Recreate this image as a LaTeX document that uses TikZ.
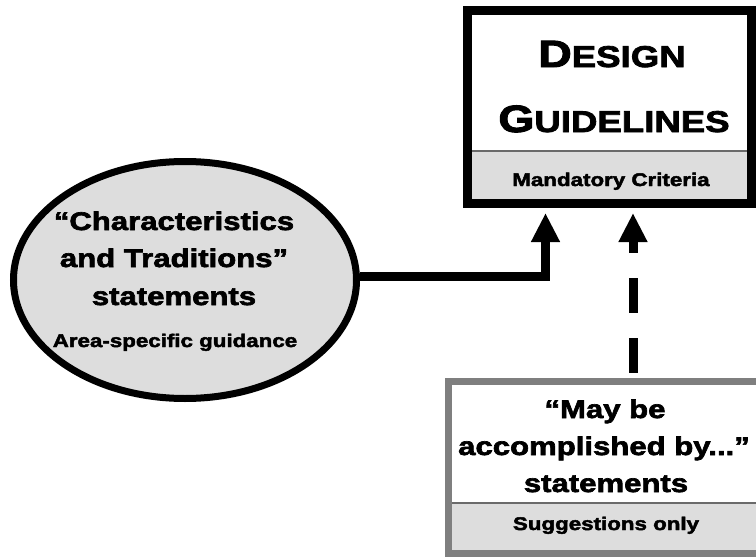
\documentclass[tikz,border=0pt]{standalone}
\usepackage{fontspec}
\setmainfont{Liberation Sans}[FakeStretch=1.22,BoldFeatures={FakeBold=2.6}]
\usetikzlibrary{arrows.meta,shapes.geometric}
\definecolor{panel}{HTML}{DDDDDD}
\definecolor{rule}{HTML}{6A6A6A}
\definecolor{frame}{HTML}{7F7F7F}
\newcommand\bigtxt{\fontsize{25.5}{30}\selectfont\bfseries}
\newcommand\subtxt{\fontsize{18.3}{22}\selectfont\bfseries}
\newcommand\capA{\fontsize{38}{44}\selectfont\bfseries}
\newcommand\capB{\fontsize{30}{44}\selectfont\bfseries}
\tikzset{
  line/.style={anchor=base, inner sep=0pt, text=black},
  conn/.style={line width=9pt, -{Triangle[length=29pt,width=27pt]}, shorten >=5pt},
}
\begin{document}
\begin{tikzpicture}[x=1pt,y=-1pt]
\useasboundingbox[fill=white] (0,0) rectangle (756,557);
% Design guidelines box
\fill[panel] (467.5,151) rectangle (751.5,203.5);
\draw[rule, line width=1.5pt] (467.5,151) -- (751.5,151);
\node[draw, line width=9pt, minimum width=284pt, minimum height=193pt, inner sep=0pt] (dg) at (609.5,107) {};
\node[line] (d1) at (612,67) {\capA D\capB ESIGN};
\node[line] (d2) at (614,132) {\capA G\capB UIDELINES};
\node[line] (d3) at (611,186) {\subtxt Mandatory Criteria};
% ellipse
\node[ellipse, draw, fill=panel, line width=7pt, minimum width=343pt, minimum height=237pt, inner sep=0pt] (ell) at (185,280) {};
\node[line] (e1) at (174,230) {\bigtxt “Characteristics};
\node[line] (e2) at (174,267) {\bigtxt and Traditions”};
\node[line] (e3) at (174,305) {\bigtxt statements};
\node[line] (e4) at (175,347) {\subtxt Area-specific guidance};
% bottom box
\fill[panel] (448.5,503) rectangle (767,553.5);
\draw[rule, line width=1.5pt] (448.5,503) -- (767,503);
\node[draw=frame, line width=7pt, minimum width=318.5pt, minimum height=172.5pt, inner sep=0pt] (may) at (607.75,467.25) {};
\node[line] (m1) at (605,418) {\bigtxt “May be};
\node[line] (m2) at (604,455) {\bigtxt accomplished by...”};
\node[line] (m3) at (606,492) {\bigtxt statements};
\node[line] (m4) at (606,530) {\subtxt Suggestions only};
% connectors
\draw[conn] ([yshift=3.5pt]ell.east) -| ([xshift=-64pt]dg.south);
\draw[conn, dash pattern=on 35pt off 25pt, dash phase=55pt] ([xshift=25.25pt]may.north) -- ([xshift=23.5pt]dg.south);
\end{tikzpicture}
\end{document}
